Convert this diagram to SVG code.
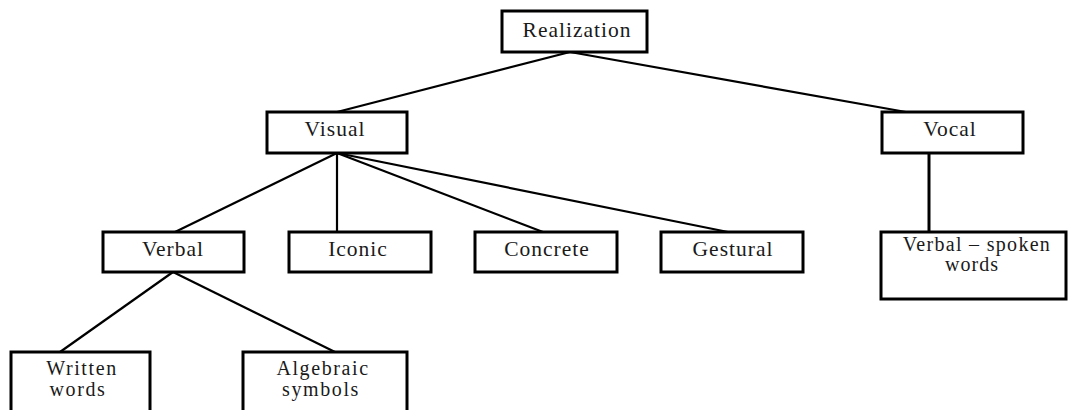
<svg xmlns="http://www.w3.org/2000/svg" width="1068" height="410" viewBox="0 0 1068 410">
<style>
rect{fill:#fff;stroke:#000;stroke-width:3}
text{font-family:"Liberation Serif","Times New Roman",serif;font-size:21.5px;fill:#1a1a1a;text-anchor:middle;letter-spacing:1px}
text.two{font-size:20px}
#connectors line{stroke:#000;stroke-width:2.2}
</style>
<rect x="0" y="0" width="1068" height="410" style="fill:#fff;stroke:none"/>
<g id="connectors">
<line x1="570" y1="52" x2="337" y2="112"/>
<line x1="570" y1="52" x2="906" y2="112"/>
<line x1="337" y1="153" x2="175" y2="232"/>
<line x1="337" y1="153" x2="337" y2="232"/>
<line x1="337" y1="153" x2="543" y2="232"/>
<line x1="337" y1="153" x2="728" y2="232"/>
<line x1="929" y1="153" x2="929" y2="232" style="stroke-width:3"/>
<line x1="173" y1="272" x2="60" y2="352"/>
<line x1="173" y1="272" x2="335" y2="352"/>
</g>
<g id="realization"><rect x="502" y="11" width="145" height="41"/><text x="577" y="37">Realization</text></g>
<g id="visual"><rect x="267" y="112" width="140" height="41"/><text x="335" y="136">Visual</text></g>
<g id="vocal"><rect x="882" y="112" width="141" height="41"/><text x="950" y="136">Vocal</text></g>
<g id="verbal"><rect x="103" y="232" width="141" height="40"/><text x="173" y="256">Verbal</text></g>
<g id="iconic"><rect x="289" y="232" width="142" height="40"/><text x="358" y="256">Iconic</text></g>
<g id="concrete"><rect x="475" y="232" width="142" height="40"/><text x="547" y="256">Concrete</text></g>
<g id="gestural"><rect x="661" y="232" width="142" height="40"/><text x="733" y="256">Gestural</text></g>
<g id="verbal-spoken"><rect x="881" y="232" width="185" height="67"/><text class="two" x="977" y="251" style="letter-spacing:1.3px">Verbal – spoken</text><text class="two" x="972" y="271">words</text></g>
<g id="written-words"><rect x="11" y="352" width="139" height="70"/><text class="two" x="82" y="375" style="letter-spacing:1.6px">Written</text><text class="two" x="78" y="396" style="letter-spacing:1.6px">words</text></g>
<g id="algebraic-symbols"><rect x="243" y="352" width="164" height="70"/><text class="two" x="323" y="375" style="letter-spacing:1.6px">Algebraic</text><text class="two" x="321" y="396" style="letter-spacing:1.6px">symbols</text></g>
</svg>
